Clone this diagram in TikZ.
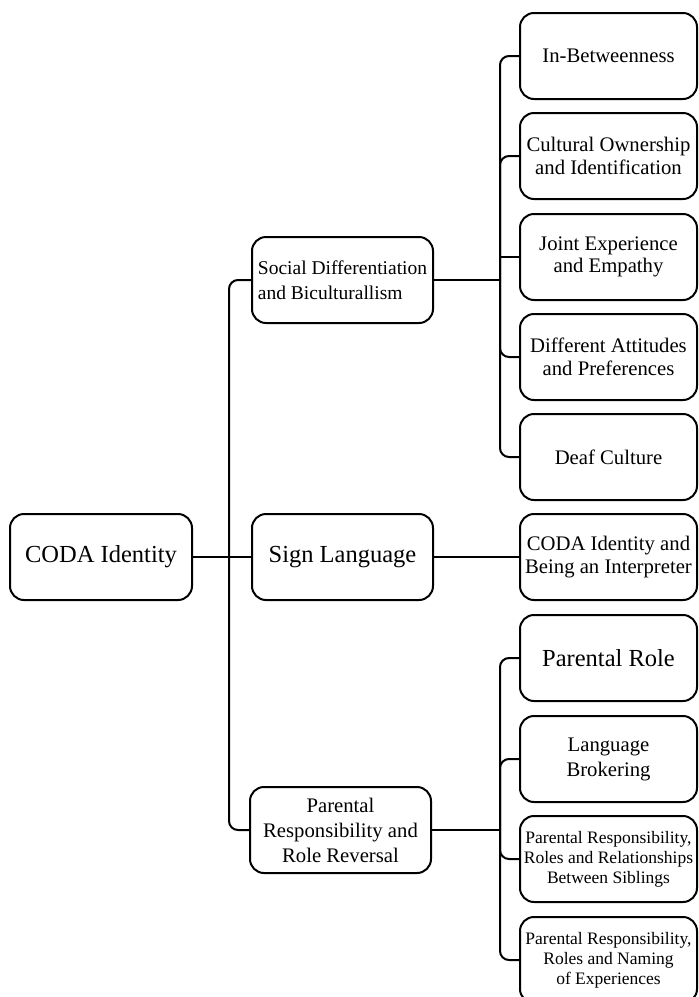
\documentclass[tikz,border=0pt]{standalone}
\usepackage{fontspec}
\setmainfont{Liberation Serif}
\tikzset{
  topic/.style={draw, line width=2pt, rounded corners=14pt, align=center,
    inner sep=1pt, minimum height=86pt},
  maintopic/.style={topic, minimum width=181pt},
  subtopic/.style={topic, minimum width=177pt},
  link/.style={line width=2pt, rounded corners=9pt},
  big/.style={font=\fontsize{24.5}{27}\selectfont},
  mid/.style={font=\fontsize{20.7}{22.5}\selectfont},
  small/.style={font=\fontsize{17.5}{20}\selectfont}
}
\begin{document}
\begin{tikzpicture}[x=1pt, y=-1pt]
  \useasboundingbox (0,0) rectangle (699,997);
  % root
  \node[topic, big, minimum width=182pt] (coda) at (101,557) {CODA Identity};
  % themes
  \node[maintopic, align=left, font=\fontsize{19.5}{25}\selectfont] (social) at (342.5,280)
    {Social Differentiation\\and Biculturallism};
  \node[maintopic, big] (sign) at (342.5,557) {Sign Language};
  \node[maintopic, font=\fontsize{20.7}{25}\selectfont] (parental) at (340.5,830)
    {Parental\\Responsibility and\\Role Reversal};
  % subthemes
  \node[subtopic, mid] (inbetween) at (608.5,56) {In-Betweenness};
  \node[subtopic, mid] (cultural) at (608.5,156) {Cultural Ownership\\and Identification};
  \node[subtopic, mid] (joint) at (608.5,257) {Joint Experience\\and Empathy};
  \node[subtopic, mid] (different) at (608.5,357) {Different Attitudes\\and Preferences};
  \node[subtopic, mid] (deaf) at (608.5,457) {Deaf Culture};
  \node[subtopic, mid] (being) at (608.5,557) {CODA Identity and\\Being an Interpreter};
  \node[subtopic, big] (role) at (608.5,658) {Parental Role};
  \node[subtopic, font=\fontsize{20.7}{25}\selectfont] (brokering) at (608.5,759) {Language\\Brokering};
  \node[subtopic, small] (siblings) at (608.5,859)
    {Parental Responsibility,\\Roles and Relationships\\Between Siblings};
  \node[subtopic, small] (naming) at (608.5,960)
    {Parental Responsibility,\\Roles and Naming\\of Experiences};
  % branch points
  \coordinate (t0) at (229,557);
  \coordinate (t1) at (500,280);
  \coordinate (t3) at (500,830);
  % connectors
  \draw[link] (coda) -- (sign);
  \draw[link] (t0) |- (social.west);
  \draw[link] (t0) |- (parental.west);
  \draw[link] (social) -- (t1);
  \foreach \n in {inbetween,cultural,different,deaf}
    \draw[link] (t1) |- (\n.west);
  \draw[line width=2pt] (t1) |- (joint.west);
  \draw[link] (sign) -- (being);
  \draw[link] (parental) -- (t3);
  \foreach \n in {role,brokering,siblings,naming}
    \draw[link] (t3) |- (\n.west);
\end{tikzpicture}
\end{document}
